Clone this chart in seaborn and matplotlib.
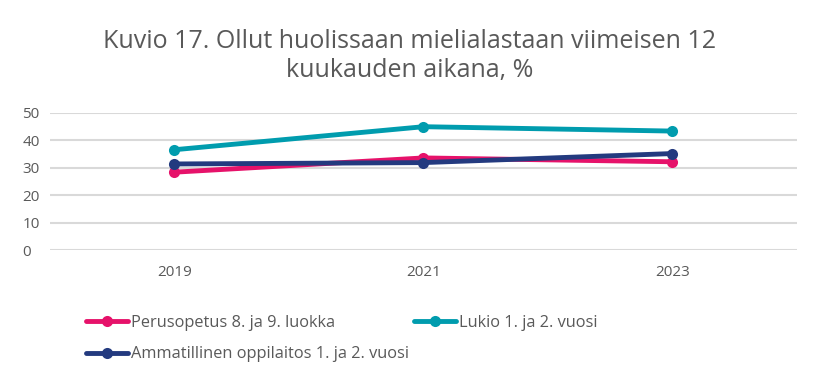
import matplotlib
matplotlib.use("Agg")
import matplotlib.pyplot as plt
import seaborn as sns
import pandas as pd

years = ["2019", "2021", "2023"]
perusopetus = [28.4, 33.6, 32.2]
lukio = [36.6, 45.0, 43.4]
ammatillinen = [31.4, 31.9, 35.2]
series_names = ["Perusopetus 8. ja 9. luokka", "Lukio 1. ja 2. vuosi",
                "Ammatillinen oppilaitos 1. ja 2. vuosi"]
colors = ["#E6126A", "#009CAE", "#233A7F"]

rows = []
for name, vals in zip(series_names, [perusopetus, lukio, ammatillinen]):
    for y, v in zip(years, vals):
        rows.append({"Vuosi": y, "Arvo": v, "Sarja": name})
df = pd.DataFrame(rows)

sns.set_theme(style="white")
plt.rcParams['font.family'] = ['Open Sans', 'DejaVu Sans']

fig = plt.figure(figsize=(8.2, 3.79), dpi=100)
ax = fig.add_axes([50/820, 1-250/379, 747/820, 137/379])
sns.lineplot(data=df, x="Vuosi", y="Arvo", hue="Sarja", palette=colors,
             hue_order=series_names, marker="o", markersize=8, linewidth=3.5,
             markeredgewidth=0, sort=False, ax=ax, legend=False)
ax.set_xlim(-0.5, 2.5)
ax.set_ylim(0, 50)
ax.set_yticks([0, 10, 20, 30, 40, 50])
ax.grid(axis="y", color="#D9D9D9", linewidth=1.5)
ax.set_axisbelow(True)
for s in ax.spines.values():
    s.set_visible(False)
ax.set_xlabel("")
ax.set_ylabel("")
ax.tick_params(axis="both", length=0, labelsize=11, colors="#595959")
ax.tick_params(axis="y", pad=20)
for lbl in ax.get_yticklabels():
    lbl.set_horizontalalignment("left")
ax.tick_params(axis="x", pad=11)

fig.text(0.5, 1-56/379, "Kuvio 17. Ollut huolissaan mielialastaan viimeisen 12\nkuukauden aikana, %",
         ha="center", va="center", fontsize=18, color="#595959", linespacing=1.2)

handles = [plt.Line2D([0], [0], color=c, lw=3.5, marker="o", markersize=8,
                      markeredgewidth=0) for c in colors]
order = [0, 2, 1]
leg = fig.legend([handles[i] for i in order], [series_names[i] for i in order],
                 loc="upper left", bbox_to_anchor=(71/820, 1-300/379),
                 ncol=2, frameon=False, fontsize=11.8, handlelength=2.6, handletextpad=0.15,
                 columnspacing=0.3, labelspacing=0.95, labelcolor="#595959")

fig.savefig("out.png", dpi=100)
